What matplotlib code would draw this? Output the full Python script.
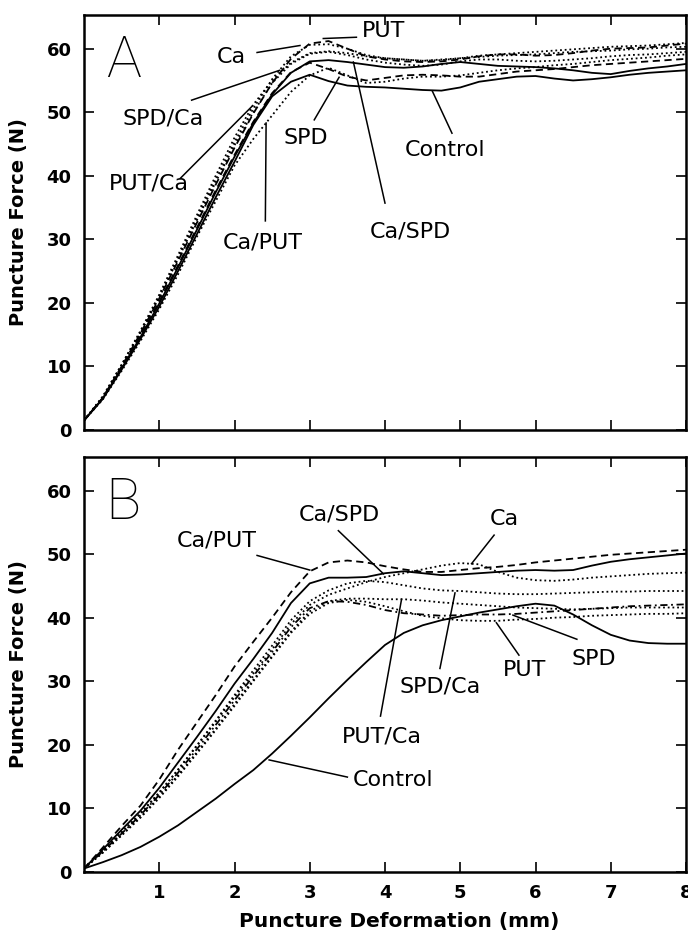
import numpy as np
import matplotlib
matplotlib.use('Agg')
import matplotlib.pyplot as plt

plt.rcParams['font.family'] = ['DejaVu Sans']

# deformation grid (mm), same for every curve
deform = np.arange(0, 8.01, 0.25)

# ---- panel A: puncture force (N) ----
a_control = [1.5, 4.9, 9.5, 14.3, 19.4, 25.0, 30.8, 36.6, 42.2, 48.0, 52.5, 54.8, 55.9,
             54.9, 54.2, 54.0, 53.9, 53.7, 53.5, 53.4, 53.9, 54.8, 55.2, 55.6, 55.7,
             55.3, 55.0, 55.2, 55.5, 55.9, 56.2, 56.4, 56.6]
a_ca_spd = [1.5, 5.0, 9.7, 14.6, 19.9, 25.6, 31.5, 37.4, 43.0, 48.3, 52.8, 56.2, 58.0,
            58.2, 57.9, 57.5, 57.1, 57.0, 57.2, 57.6, 57.9, 57.6, 57.3, 57.2, 57.1,
            56.9, 56.6, 56.2, 56.0, 56.5, 56.9, 57.2, 57.6]
a_spd = [1.5, 5.0, 9.8, 14.8, 20.2, 25.9, 31.8, 37.7, 43.3, 48.5, 53.0, 56.3, 57.8,
         56.8, 55.6, 55.0, 55.4, 55.8, 55.9, 55.8, 55.6, 55.6, 56.0, 56.4, 56.6,
         56.8, 57.1, 57.4, 57.6, 57.8, 58.0, 58.2, 58.4]
a_ca_put = [1.5, 4.8, 9.3, 14.0, 19.0, 24.5, 30.4, 36.0, 41.6, 45.8, 49.5, 53.2, 55.8,
            57.0, 55.8, 54.6, 54.8, 55.3, 55.6, 55.6, 55.8, 56.2, 56.6, 56.9, 57.1,
            57.4, 57.6, 57.9, 58.2, 58.4, 58.6, 58.9, 59.1]
a_put_ca = [1.5, 5.3, 10.3, 15.6, 21.3, 27.5, 33.8, 40.0, 46.0, 51.2, 55.0, 57.8, 59.3,
            59.6, 59.3, 58.8, 58.5, 58.3, 58.1, 58.3, 58.5, 58.7, 58.9, 59.0, 59.1,
            59.3, 59.5, 59.6, 59.7, 59.9, 60.0, 60.2, 60.3]
a_spd_ca = [1.5, 5.2, 10.1, 15.3, 20.9, 26.9, 33.0, 39.0, 44.8, 50.0, 54.6, 57.6, 59.2,
            59.5, 59.0, 58.3, 57.8, 57.5, 57.3, 57.5, 58.0, 58.3, 58.3, 58.1, 58.0,
            58.1, 58.3, 58.5, 58.8, 59.0, 59.1, 59.3, 59.5]
a_ca = [1.5, 5.2, 10.2, 15.4, 21.0, 27.1, 33.3, 39.4, 45.3, 50.6, 55.2, 58.8, 60.6,
        60.7, 60.0, 59.0, 58.5, 58.3, 58.1, 58.2, 58.5, 58.9, 59.1, 59.3, 59.5,
        59.7, 59.9, 60.1, 60.3, 60.4, 60.5, 60.7, 60.9]
a_put = [1.5, 5.1, 10.0, 15.2, 20.7, 26.6, 32.6, 38.6, 44.4, 49.8, 54.6, 58.4, 60.8,
         61.2, 60.0, 58.8, 58.3, 58.0, 57.9, 58.0, 58.3, 58.8, 59.1, 59.1, 58.9,
         59.0, 59.3, 59.7, 60.0, 60.1, 60.2, 60.5, 60.8]

# ---- panel B ----
b_control = [0.5, 1.5, 2.6, 3.9, 5.5, 7.3, 9.4, 11.5, 13.8, 16.0, 18.6, 21.4, 24.3,
             27.3, 30.2, 33.0, 35.7, 37.6, 38.8, 39.6, 40.2, 40.8, 41.3, 41.8, 42.2,
             41.9, 40.5, 38.8, 37.3, 36.4, 36.0, 35.9, 35.9]
b_ca_put = [0.5, 3.8, 7.2, 10.4, 14.5, 19.2, 23.5, 27.8, 32.3, 36.2, 40.0, 44.0, 47.3,
            48.7, 49.0, 48.7, 48.1, 47.6, 47.2, 47.2, 47.5, 47.8, 48.0, 48.3, 48.7,
            49.0, 49.3, 49.6, 49.9, 50.1, 50.3, 50.5, 50.7]
b_ca_spd = [0.5, 3.5, 6.6, 9.6, 13.2, 17.2, 21.2, 25.3, 29.6, 33.5, 37.6, 42.3, 45.4,
            46.3, 46.3, 46.4, 47.0, 47.3, 47.0, 46.7, 46.8, 47.0, 47.2, 47.4, 47.5,
            47.4, 47.5, 48.2, 48.8, 49.2, 49.5, 49.8, 50.1]
b_ca = [0.5, 3.3, 6.2, 9.1, 12.4, 16.0, 19.8, 23.6, 27.5, 31.2, 35.0, 39.0, 42.0,
        43.6, 44.6, 45.6, 46.4, 47.0, 47.6, 48.2, 48.6, 48.4, 47.2, 46.3, 45.9,
        45.8, 46.0, 46.3, 46.5, 46.7, 46.9, 47.0, 47.1]
b_spd_ca = [0.5, 3.3, 6.2, 9.2, 12.5, 16.1, 19.9, 23.8, 27.8, 31.7, 35.6, 39.6, 42.6,
            44.3, 45.4, 45.8, 45.6, 45.1, 44.6, 44.3, 44.2, 44.0, 43.8, 43.7, 43.7,
            43.8, 43.9, 44.0, 44.1, 44.1, 44.2, 44.2, 44.2]
b_put_ca = [0.5, 3.0, 5.8, 8.6, 11.8, 15.2, 18.8, 22.5, 26.4, 30.2, 34.0, 37.8, 41.0,
            42.6, 43.0, 43.0, 42.9, 42.9, 42.7, 42.4, 42.2, 42.0, 41.8, 41.6, 41.5,
            41.4, 41.3, 41.4, 41.5, 41.6, 41.6, 41.6, 41.6]
b_spd = [0.5, 3.2, 6.0, 8.9, 12.1, 15.6, 19.3, 23.1, 27.0, 30.8, 34.6, 38.5, 41.5,
         42.6, 42.5, 42.0, 41.2, 40.7, 40.5, 40.3, 40.4, 40.5, 40.5, 40.6, 40.8,
         41.0, 41.2, 41.4, 41.6, 41.8, 41.9, 42.0, 42.1]
b_put = [0.5, 3.0, 5.7, 8.5, 11.6, 15.0, 18.6, 22.3, 26.1, 30.0, 33.8, 37.6, 40.6,
         42.3, 42.8, 42.5, 41.8, 41.0, 40.3, 39.9, 39.6, 39.5, 39.5, 39.7, 39.8,
         40.0, 40.1, 40.3, 40.4, 40.5, 40.6, 40.6, 40.7]

solid = '-'
dashed = (0, (4, 2.5))
dotted = (0, (1, 1.6))
dashdot = (0, (4, 2, 1, 2))

curves_a = [(a_control, solid), (a_ca_spd, solid), (a_spd, dashed), (a_ca_put, dotted),
            (a_put_ca, dotted), (a_spd_ca, dotted), (a_ca, dotted), (a_put, dashed)]
curves_b = [(b_control, solid), (b_ca_put, dashed), (b_ca_spd, solid), (b_ca, dotted),
            (b_spd_ca, dotted), (b_put_ca, dotted), (b_spd, dashdot), (b_put, dotted)]

# label text position, leader start, leader end
labels_a = [('PUT', (3.98, 62.8), (3.62, 61.8), (3.18, 61.6)),
            ('Ca', (1.96, 58.7), (2.30, 59.4), (2.87, 60.5)),
            ('SPD/Ca', (1.05, 49.0), (1.43, 51.9), (2.60, 56.6)),
            ('PUT/Ca', (0.86, 38.8), (1.28, 39.6), (2.23, 50.9)),
            ('Ca/PUT', (2.37, 29.5), (2.41, 32.9), (2.42, 48.3)),
            ('SPD', (2.95, 45.9), (3.06, 48.8), (3.39, 55.5)),
            ('Control', (4.80, 44.1), (4.89, 46.7), (4.63, 53.3)),
            ('Ca/SPD', (4.34, 31.3), (4.00, 35.7), (3.58, 57.9))]
labels_b = [('Ca/PUT', (1.76, 52.1), (2.30, 49.8), (3.00, 47.5)),
            ('Ca/SPD', (3.39, 56.2), (3.38, 53.7), (3.98, 46.9)),
            ('Ca', (5.59, 55.5), (5.45, 53.0), (5.15, 48.5)),
            ('PUT/Ca', (3.96, 21.3), (3.94, 24.5), (4.22, 42.9)),
            ('SPD/Ca', (4.73, 29.2), (4.73, 32.0), (4.93, 43.9)),
            ('PUT', (5.85, 31.7), (5.78, 34.1), (5.48, 39.2)),
            ('SPD', (6.77, 33.5), (6.55, 36.6), (5.70, 40.4)),
            ('Control', (4.11, 14.5), (3.50, 14.9), (2.46, 17.6))]

W, H = 688, 933
fig = plt.figure(figsize=(W / 100, H / 100), dpi=100)
axA = fig.add_axes([84 / W, 1 - 430 / H, 602 / W, 415 / H])
axB = fig.add_axes([84 / W, 1 - 871.7 / H, 602 / W, 414.7 / H])

for ax, curves, labels, letter in [(axA, curves_a, labels_a, 'A'), (axB, curves_b, labels_b, 'B')]:
    for ys, ls in curves:
        ax.plot(deform, ys, color='black', linestyle=ls, lw=1.3)
    for text, txy, p0, p1 in labels:
        ax.text(txy[0], txy[1], text, fontsize=16, ha='center', va='center')
        ax.plot([p0[0], p1[0]], [p0[1], p1[1]], color='black', lw=1.1)
    ax.text(0.52, 58.0, letter, fontsize=42, family=['Roboto', 'DejaVu Sans'],
            fontweight='light', ha='center', va='center')
    ax.set_xlim(0, 8)
    ax.set_ylim(0, 65.3)
    ax.set_xticks(range(1, 9))
    ax.set_yticks(range(0, 61, 10))
    ax.tick_params(direction='in', length=7, width=1.2, top=True, right=True,
                   labelsize=13, pad=9)
    for lab in ax.get_xticklabels() + ax.get_yticklabels():
        lab.set_fontweight('bold')
    for sp in ax.spines.values():
        sp.set_linewidth(1.8)
    ax.set_ylabel('Puncture Force (N)', fontsize=14, fontweight='bold')
    ax.yaxis.set_label_coords(-0.093, 0.5)

axA.tick_params(labelbottom=False)
fig.text(399 / W, 1 - 921 / H, 'Puncture Deformation (mm)', fontsize=14.5,
         fontweight='bold', ha='center', va='center')

fig.savefig('out.png', dpi=100)
